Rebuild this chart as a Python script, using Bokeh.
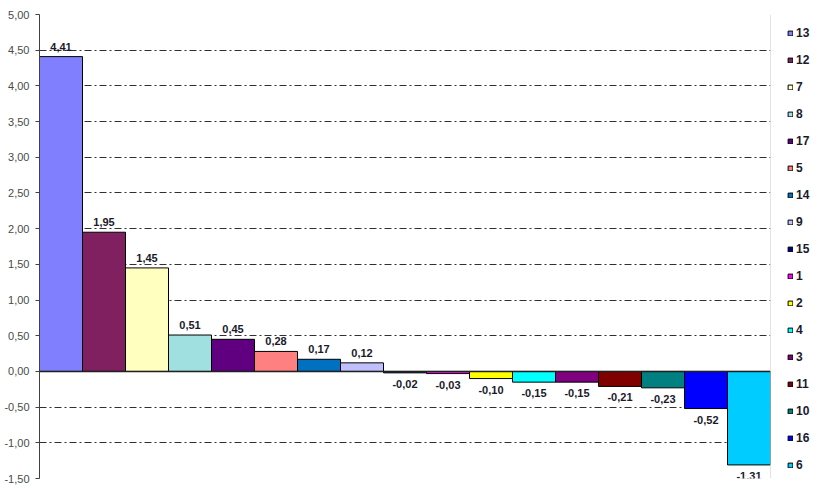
from bokeh.plotting import figure
from bokeh.models import (ColumnDataSource, LabelSet, Legend, LegendItem, Span,
                          SingleIntervalTicker, CustomJSTickFormatter, Range1d)
from bokeh.core.properties import value
from bokeh.embed import file_html
from bokeh.resources import INLINE

categories = ["13", "12", "7", "8", "17", "5", "14", "9", "15",
              "1", "2", "4", "3", "11", "10", "16", "6"]
values = [4.41, 1.95, 1.45, 0.51, 0.45, 0.28, 0.17, 0.12, -0.02,
          -0.03, -0.10, -0.15, -0.15, -0.21, -0.23, -0.52, -1.31]
colors = ["#8080FF", "#802060", "#FFFFC0", "#A0E0E0", "#600080", "#FF8080",
          "#0070C0", "#C0C0FF", "#000080", "#FF00FF", "#FFFF00", "#00FFFF",
          "#800080", "#800000", "#008080", "#0000FF", "#00CCFF"]
y_min, y_max, y_step = -1.5, 5.0, 0.5

xs = list(range(len(categories)))
labels = [f"{v:.2f}".replace(".", ",") for v in values]

src = ColumnDataSource(dict(x=xs, top=values, color=colors, cat=categories, label=labels))
pos = ColumnDataSource(dict(x=[x for x, v in zip(xs, values) if v >= 0],
                            y=[v for v in values if v >= 0],
                            label=[l for l, v in zip(labels, values) if v >= 0]))
neg = ColumnDataSource(dict(x=[x for x, v in zip(xs, values) if v < 0],
                            y=[v for v in values if v < 0],
                            label=[l for l, v in zip(labels, values) if v < 0]))

p = figure(frame_width=731, frame_height=464, output_backend="svg", toolbar_location=None,
           x_range=Range1d(-0.5, len(categories) - 0.5), y_range=Range1d(y_min, y_max),
           min_border_left=39, min_border_top=14, min_border_bottom=7, min_border_right=43)
p.outline_line_color = None
p.background_fill_color = "white"
p.border_fill_color = "white"

r = p.vbar(x="x", top="top", bottom=0, width=1.0, fill_color="color",
           line_color="black", line_width=1, source=src)

p.xaxis.visible = False
p.xgrid.visible = False

p.yaxis.ticker = SingleIntervalTicker(interval=y_step)
p.yaxis.formatter = CustomJSTickFormatter(code="return tick.toFixed(2).replace('.', ',');")
p.yaxis.minor_tick_line_color = None
p.yaxis.major_tick_out = 4
p.yaxis.major_tick_in = 0
p.yaxis.major_label_standoff = 6
p.yaxis.axis_line_color = "#404040"
p.yaxis.major_tick_line_color = "#404040"
p.yaxis.major_label_text_font = "Liberation Sans"
p.yaxis.major_label_text_font_size = "11px"
p.yaxis.major_label_text_color = "#4a4a4a"

p.ygrid.ticker = SingleIntervalTicker(interval=y_step)
p.ygrid.grid_line_color = "#303030"
p.ygrid.grid_line_dash = "7 3 2 3"
p.ygrid.grid_line_width = 1

p.add_layout(Span(location=0, dimension="width", line_color="#202020", line_width=1.5))
p.add_layout(Span(location=len(categories) - 0.5, dimension="height",
                  line_color="#c8c8c8", line_width=1))

common = dict(x="x", y="y", text="label", text_font=value("Liberation Sans"),
              text_font_size="11px", text_font_style="bold", text_color="#1a1a2a",
              text_align="center")
p.add_layout(LabelSet(source=pos, text_baseline="bottom", y_offset=6, **common))
p.add_layout(LabelSet(source=neg, text_baseline="top", y_offset=-7, **common))

items = [LegendItem(label=c, renderers=[r], index=i) for i, c in enumerate(categories)]
legend = Legend(items=items, location=(17, 6), orientation="vertical",
                glyph_width=6, glyph_height=6, label_height=12, spacing=13,
                label_standoff=3, padding=0, margin=0,
                label_text_font="Liberation Sans", label_text_font_size="12px",
                label_text_font_style="bold", label_text_color="#1a1a2a",
                border_line_color=None, background_fill_alpha=0)
p.add_layout(legend, "right")

open("out.html", "w").write(file_html(p, INLINE))
